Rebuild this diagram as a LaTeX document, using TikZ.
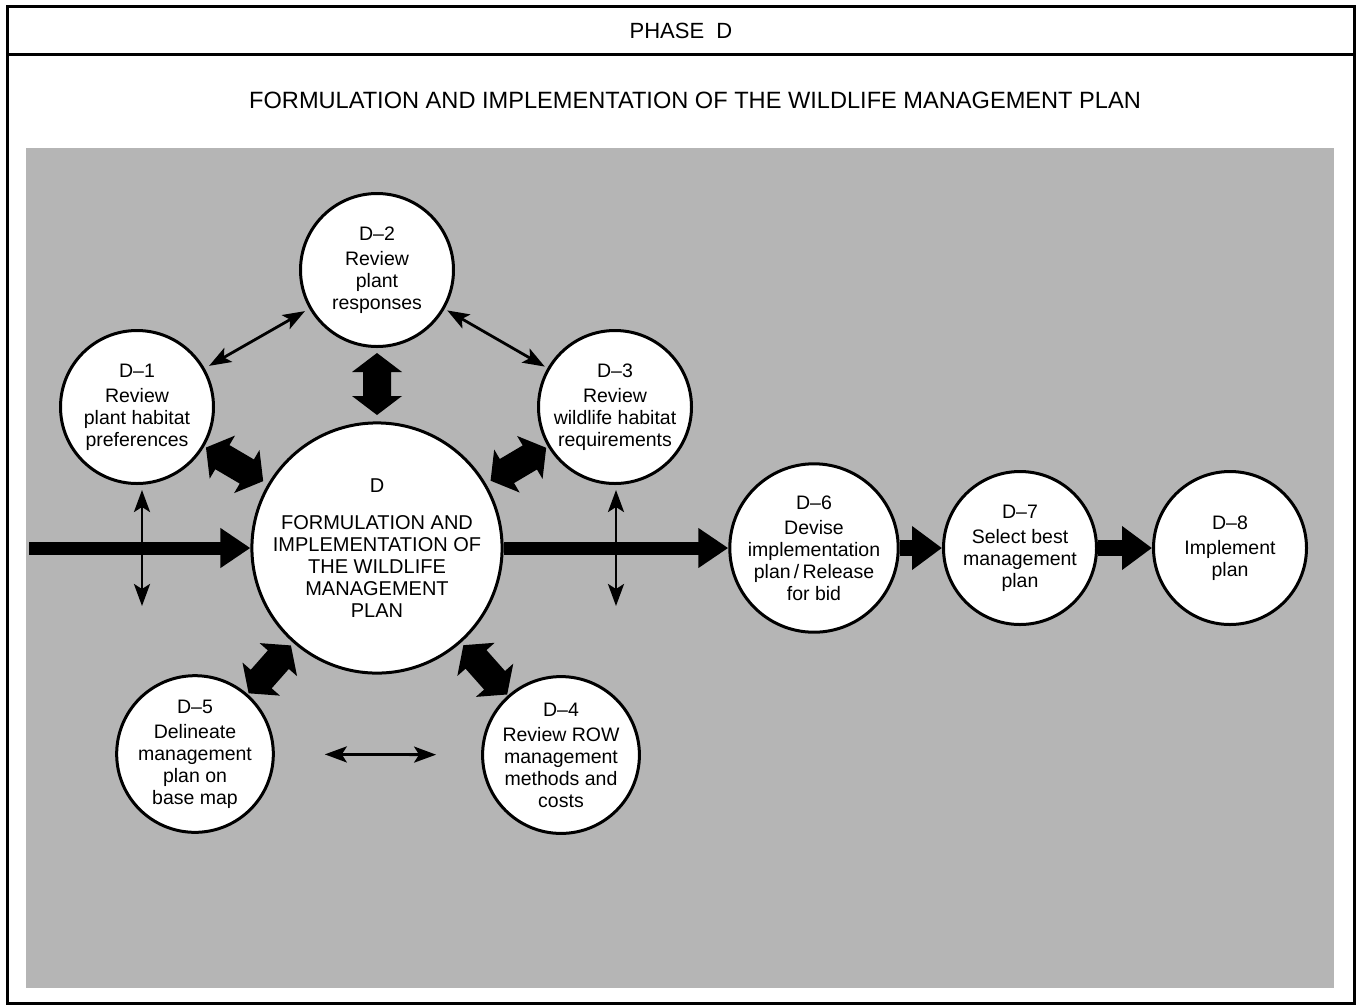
\documentclass[tikz,border=0pt]{standalone}
\usepackage{fontspec}
\setmainfont{Liberation Sans}
\usetikzlibrary{arrows.meta,calc}
\newcommand\fatarrow[4]{%
 \fill[black] let \p1=(#1.center),\p2=(#2.center),
   \n1={atan2(\y2-\y1,\x2-\x1)},\n2={veclen(\x2-\x1,\y2-\y1)} in
  ($(\p1)+(\n1:{#3})$) --
  ($(\p1)+(\n1:{#3+19pt})+(\n1+90:25pt)$) --
  ($(\p1)+(\n1:{#3+19pt})+(\n1+90:14pt)$) --
  ($(\p1)+(\n1:{\n2-#4-19pt})+(\n1+90:14pt)$) --
  ($(\p1)+(\n1:{\n2-#4-19pt})+(\n1+90:25pt)$) --
  ($(\p1)+(\n1:{\n2-#4})$) --
  ($(\p1)+(\n1:{\n2-#4-19pt})+(\n1-90:25pt)$) --
  ($(\p1)+(\n1:{\n2-#4-19pt})+(\n1-90:14pt)$) --
  ($(\p1)+(\n1:{#3+19pt})+(\n1-90:14pt)$) --
  ($(\p1)+(\n1:{#3+19pt})+(\n1-90:25pt)$) -- cycle;}
\begin{document}
\begin{tikzpicture}[x=1pt,y=-1pt,
  bub/.style={circle,draw=black,line width=3pt,fill=white,inner sep=0pt,align=center,
    font=\fontsize{19.5}{22}\selectfont},
  sat/.style={bub,minimum size=153pt},
  thinarr/.style={line width=2.8pt,
    {Stealth[length=22pt,width=16pt,inset=5pt]}-{Stealth[length=22pt,width=16pt,inset=5pt]}},
  thickarr/.style={line width=13pt,-{Triangle[length=30pt,width=38pt]}},
  shortarr/.style={line width=16pt,-{Triangle[length=30pt,width=42pt]}},
]
\useasboundingbox (0,0) rectangle (1360,1005);
\fill[white] (0,0) rectangle (1360,1005);
\draw[line width=3pt] (7,6) rectangle (1354,1003);
\draw[line width=3pt] (7,54) -- (1354,54);
\node[font=\fontsize{22}{26}\selectfont] (phase) at (681,31) {PHASE~~D};
\node[font=\fontsize{23.6}{28}\selectfont] (title) at (695,100)
  {FORMULATION AND IMPLEMENTATION OF THE WILDLIFE MANAGEMENT PLAN};
\fill[black!29] (26,148) rectangle (1334,988);

\node[sat] (d2) at (377,270) {D\textendash2\\[3pt]Review\\plant\\responses};
\node[sat] (d1) at (137,407) {D\textendash1\\[3pt]Review\\plant habitat\\preferences};
\node[sat] (d3) at (615,407) {D\textendash3\\[3pt]Review\\wildlife habitat\\requirements};
\node[bub,minimum size=250pt,font=\fontsize{20}{22}\selectfont] (d) at (377,548)
  {D\\[15pt]FORMULATION AND\\IMPLEMENTATION OF\\THE WILDLIFE\\MANAGEMENT\\PLAN};
\node[sat] (d5) at (195,754) {D\textendash5\\[3pt]Delineate\\management\\plan on\\base map};
\node[sat] (d4) at (561,755) {D\textendash4\\[3pt]Review ROW\\management\\methods and\\costs};
\node[sat] (d6) at (814,548) {D\textendash6\\[3pt]Devise\\implementation\\plan\,/\,Release\\for bid};
\node[sat] (d7) at (1020,548) {D\textendash7\\[3pt]Select best\\management\\plan};
\node[sat] (d8) at (1230,548) {D\textendash8\\[3pt]Implement\\plan};

\coordinate (in) at (29,548);
\draw[thickarr] (in) -- (d);
\draw[thickarr] (d) -- (d6);
\draw[shortarr] (d6) -- (d7);
\draw[shortarr] (d7) -- (d8);

\coordinate (v1a) at (142,490);
\coordinate (v1b) at (142,606);
\coordinate (v3a) at (616,490);
\coordinate (v3b) at (616,606);
\draw[thinarr] (v1a) -- (v1b);
\draw[thinarr] (v3a) -- (v3b);

\draw[thinarr,shorten <=5pt,shorten >=5pt] (d1) -- (d2);
\draw[thinarr,shorten <=3pt,shorten >=3pt] (d2) -- (d3);
\draw[thinarr,shorten <=50pt,shorten >=45pt] (d5) -- (d4);

\fatarrow{d2}{d}{83pt}{133pt}
\fatarrow{d1}{d}{80pt}{132pt}
\fatarrow{d3}{d}{80pt}{132pt}
\fatarrow{d5}{d}{81pt}{130pt}
\fatarrow{d4}{d}{81pt}{130pt}
\end{tikzpicture}
\end{document}
